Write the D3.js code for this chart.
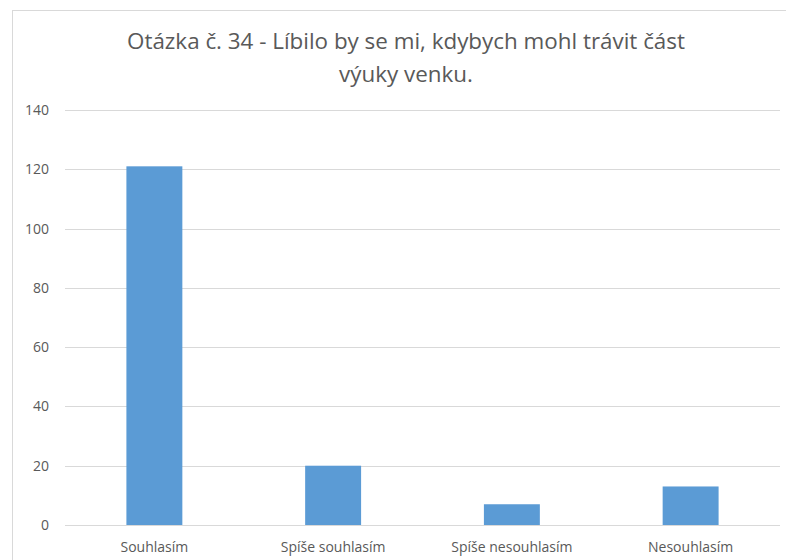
<!DOCTYPE html>
<html>
<head>
<meta charset="utf-8">
<script src="https://cdn.jsdelivr.net/npm/d3@7"></script>
<style>
  html, body { margin: 0; padding: 0; background: #ffffff; }
  svg { display: block; font-family: "Open Sans", sans-serif; }
</style>
</head>
<body>
<svg id="chart" width="786" height="560"></svg>
<script>
// Survey answers and counts
const categories = ["Souhlasím", "Spíše souhlasím", "Spíše nesouhlasím", "Nesouhlasím"];
const counts = [121, 20, 7, 13];
const yTicks = [0, 20, 40, 60, 80, 100, 120, 140];
const titleLines = ["Otázka č. 34 - Líbilo by se mi, kdybych mohl trávit část", "výuky venku."];

const svg = d3.select("#chart");
const W = 786, H = 560;
const margin = { left: 65, right: 6, top: 110, bottom: 35 };
const textColor = "#595959";

// Chart frame (runs off the right and bottom edges)
svg.append("rect")
  .attr("x", 12.5).attr("y", 10.5)
  .attr("width", W + 10).attr("height", H + 10)
  .attr("fill", "#ffffff")
  .attr("stroke", "#d9d9d9")
  .attr("stroke-width", 1);

const x = d3.scaleBand()
  .domain(categories)
  .range([margin.left, W - margin.right])
  .paddingInner(0.687)
  .paddingOuter(0.3435);

const y = d3.scaleLinear()
  .domain([0, 140])
  .range([H - margin.bottom, margin.top]);

// Horizontal gridlines
svg.append("g")
  .selectAll("line")
  .data(yTicks)
  .join("line")
  .attr("x1", margin.left)
  .attr("x2", W - margin.right)
  .attr("y1", d => Math.round(y(d)) + 0.5)
  .attr("y2", d => Math.round(y(d)) + 0.5)
  .attr("stroke", "#d9d9d9")
  .attr("stroke-width", 1);

// Y axis labels
const yAxis = d3.axisLeft(y).tickValues(yTicks).tickSize(0).tickPadding(16);
const gy = svg.append("g")
  .attr("transform", `translate(${margin.left},0)`)
  .call(yAxis);
gy.select(".domain").remove();
gy.selectAll("text")
  .attr("fill", textColor)
  .style("font-size", "14px")
  .style("font-family", "'Open Sans', sans-serif");

// Bars
svg.append("g")
  .selectAll("rect")
  .data(categories)
  .join("rect")
  .attr("x", d => x(d))
  .attr("width", x.bandwidth())
  .attr("y", (d, i) => y(counts[i]))
  .attr("height", (d, i) => y(0) - y(counts[i]))
  .attr("fill", "#5b9bd5");

// X axis category labels
const xAxis = d3.axisBottom(x).tickSize(0).tickPadding(0);
const gx = svg.append("g")
  .attr("transform", `translate(0,${y(0)})`)
  .call(xAxis);
gx.select(".domain").remove();
gx.selectAll("text")
  .attr("dy", null)
  .attr("y", 27)
  .attr("fill", textColor)
  .style("font-size", "14px")
  .style("font-family", "'Open Sans', sans-serif");

// Title
const title = svg.append("text")
  .attr("text-anchor", "middle")
  .attr("fill", textColor)
  .style("font-size", "22.4px");
title.selectAll("tspan")
  .data(titleLines)
  .join("tspan")
  .attr("x", 406)
  .attr("y", (d, i) => 49 + i * 33)
  .text(d => d);
</script>
</body>
</html>
